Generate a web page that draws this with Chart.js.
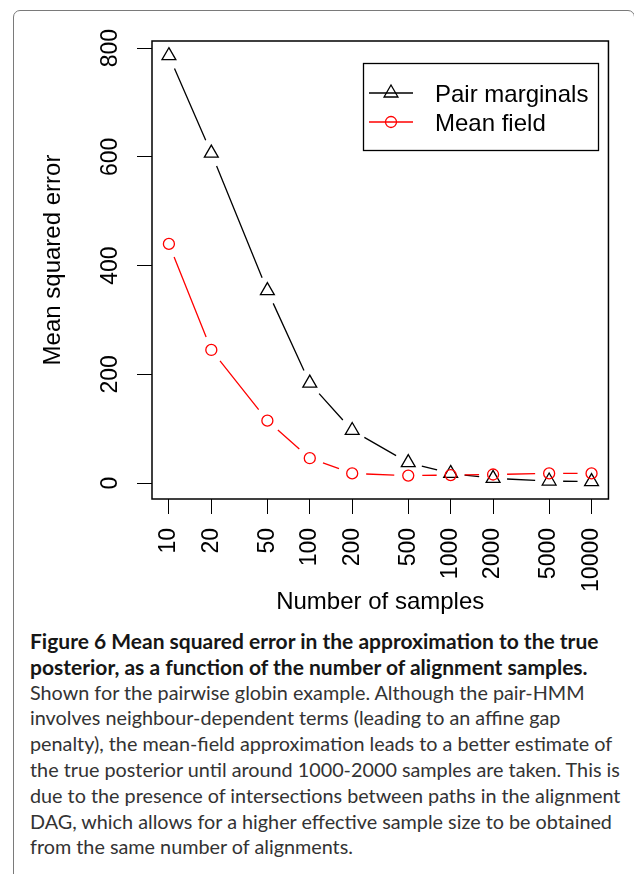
<!DOCTYPE html>
<html>
<head>
<meta charset="utf-8">
<script src="https://cdn.jsdelivr.net/npm/chart.js@4.4.1/dist/chart.umd.min.js"></script>
<style>
  html, body { margin: 0; padding: 0; background: #fff; width: 634px; height: 874px; overflow: hidden; }
  #frame { position: absolute; left: 13px; top: 10px; width: 622px; height: 900px; border: 1px solid #7a7a7a; border-radius: 7px; box-sizing: border-box; }
  #wrap { position: absolute; left: 0; top: 0; width: 634px; height: 620px; }
  #caption { position: absolute; left: 30px; top: 628px; font-family: Lato, "Open Sans", sans-serif; font-size: 19.8px; line-height: 25.8px; color: #333; white-space: nowrap; }
  #caption .hd { font-weight: 700; font-size: 21px; color: #161616; }
</style>
</head>
<body>
<div id="frame"></div>
<div id="wrap"><canvas id="mse" width="634" height="620"></canvas></div>
<div id="caption">
  <div class="hd">Figure 6 Mean squared error in the approximation to the true</div>
  <div class="hd">posterior, as a function of the number of alignment samples.</div>
  <div>Shown for the pairwise globin example. Although the pair-HMM</div>
  <div>involves neighbour-dependent terms (leading to an affine gap</div>
  <div>penalty), the mean-field approximation leads to a better estimate of</div>
  <div>the true posterior until around 1000-2000 samples are taken. This is</div>
  <div>due to the presence of intersections between paths in the alignment</div>
  <div>DAG, which allows for a higher effective sample size to be obtained</div>
  <div>from the same number of alignments.</div>
</div>
<script>
// Number of alignment samples (log-scaled x axis)
const sampleSizes = [10, 20, 50, 100, 200, 500, 1000, 2000, 5000, 10000];
// Mean squared error for each approximation
const pairMarginals = [786, 607, 354, 184, 97, 38, 18, 9, 4, 3];
const meanField = [440, 245, 115, 46, 18, 14, 15, 16, 18, 18];
// Axis tick values
const xTickValues = [10, 20, 50, 100, 200, 500, 1000, 2000, 5000, 10000];
const yTickValues = [0, 200, 400, 600, 800];

const seriesNames = ['Pair marginals', 'Mean field'];
const AXIS_FONT = '"Liberation Sans", Arial, Helvetica, sans-serif';

// Broken connecting lines (segments stop short of each marker)
const gappedLines = {
  id: 'gappedLines',
  afterDatasetDraw(chart, args) {
    const ctx = chart.ctx;
    const ds = chart.data.datasets[args.index];
    const pts = args.meta.data;
    const gap = 14;
    ctx.save();
    ctx.strokeStyle = ds.borderColor;
    ctx.lineWidth = 1.3;
    ctx.beginPath();
    for (let i = 0; i < pts.length - 1; i++) {
      const a = pts[i], b = pts[i + 1];
      const dx = b.x - a.x, dy = b.y - a.y;
      const len = Math.hypot(dx, dy);
      if (len <= 2 * gap) continue;
      const ux = dx / len, uy = dy / len;
      ctx.moveTo(a.x + ux * gap, a.y + uy * gap);
      ctx.lineTo(b.x - ux * gap, b.y - uy * gap);
    }
    ctx.stroke();
    ctx.restore();
  }
};

// Plot box, rotated y labels, axis titles and legend
const decorations = {
  id: 'decorations',
  afterDraw(chart) {
    const ctx = chart.ctx;
    const area = chart.chartArea;
    const yScale = chart.scales.y;
    ctx.save();
    ctx.strokeStyle = '#000';
    ctx.lineWidth = 1.5;
    ctx.strokeRect(area.left, area.top, area.right - area.left, area.bottom - area.top);

    ctx.fillStyle = '#000';
    ctx.font = '23px ' + AXIS_FONT;
    ctx.textAlign = 'center';
    ctx.textBaseline = 'alphabetic';
    yTickValues.forEach(v => {
      const py = yScale.getPixelForValue(v);
      ctx.save();
      ctx.translate(108.5, py);
      ctx.rotate(-Math.PI / 2);
      ctx.fillText(String(v), 0, 8.2);
      ctx.restore();
    });

    ctx.font = '24px ' + AXIS_FONT;
    ctx.save();
    ctx.translate(59.5, 260);
    ctx.rotate(-Math.PI / 2);
    ctx.fillText('Mean squared error', 0, 0);
    ctx.restore();
    ctx.fillText('Number of samples', (area.left + area.right) / 2, 609);

    // legend
    ctx.lineWidth = 1.3;
    ctx.strokeRect(363.5, 63.5, 235, 87);
    const rows = [93, 122];
    chart.data.datasets.forEach((ds, i) => {
      const y = rows[i];
      ctx.strokeStyle = ds.borderColor;
      ctx.lineWidth = 1.3;
      ctx.beginPath();
      ctx.moveTo(369, y);
      ctx.lineTo(413, y);
      ctx.stroke();
      ctx.fillStyle = 'rgba(0,0,0,0)';
      Chart.helpers.drawPoint(ctx, {
        pointStyle: ds.pointStyle, radius: ds.pointRadius, rotation: 0, borderWidth: ds.pointBorderWidth
      }, 391, y);
      ctx.fillStyle = '#000';
      ctx.textAlign = 'left';
      ctx.fillText(ds.label, 435, y + 8.6);
    });
    ctx.restore();
  }
};

new Chart(document.getElementById('mse'), {
  type: 'line',
  data: {
    datasets: [
      {
        label: seriesNames[0],
        data: sampleSizes.map((n, i) => ({ x: n, y: pairMarginals[i] })),
        showLine: false,
        borderColor: '#000000',
        pointStyle: 'triangle',
        pointRadius: 8,
        pointBorderWidth: 1.3,
        pointBorderColor: '#000000',
        pointBackgroundColor: 'rgba(0,0,0,0)',
        order: 1
      },
      {
        label: seriesNames[1],
        data: sampleSizes.map((n, i) => ({ x: n, y: meanField[i] })),
        showLine: false,
        borderColor: '#ff0000',
        pointStyle: 'circle',
        pointRadius: 5.5,
        pointBorderWidth: 1.3,
        pointBorderColor: '#ff0000',
        pointBackgroundColor: 'rgba(0,0,0,0)',
        order: 0
      }
    ]
  },
  options: {
    responsive: false,
    animation: false,
    devicePixelRatio: 1,
    events: [],
    layout: { padding: { left: 0, top: 41, right: 23, bottom: 0 } },
    plugins: { legend: { display: false }, tooltip: { enabled: false } },
    scales: {
      x: {
        type: 'logarithmic',
        position: 'bottom',
        min: Math.pow(10, 0.88),
        max: Math.pow(10, 4.12),
        bounds: 'data',
        afterBuildTicks: s => { s.ticks = xTickValues.map(v => ({ value: v })); },
        afterFit: s => { s.height = 121; },
        grid: { display: true, drawOnChartArea: false, drawTicks: true, tickLength: 15, color: '#000', lineWidth: 1 },
        border: { display: false },
        ticks: {
          autoSkip: false, minRotation: 90, maxRotation: 90, padding: 14, color: '#000',
          font: { family: AXIS_FONT, size: 23 },
          callback: v => String(v)
        }
      },
      y: {
        type: 'linear',
        min: -29,
        max: 813,
        bounds: 'data',
        afterBuildTicks: s => { s.ticks = yTickValues.map(v => ({ value: v })); },
        afterFit: s => { s.width = 152; },
        grid: { display: true, drawOnChartArea: false, drawTicks: true, tickLength: 15, color: '#000', lineWidth: 1 },
        border: { display: false },
        ticks: { display: false }
      }
    }
  },
  plugins: [gappedLines, decorations]
});
</script>
</body>
</html>
